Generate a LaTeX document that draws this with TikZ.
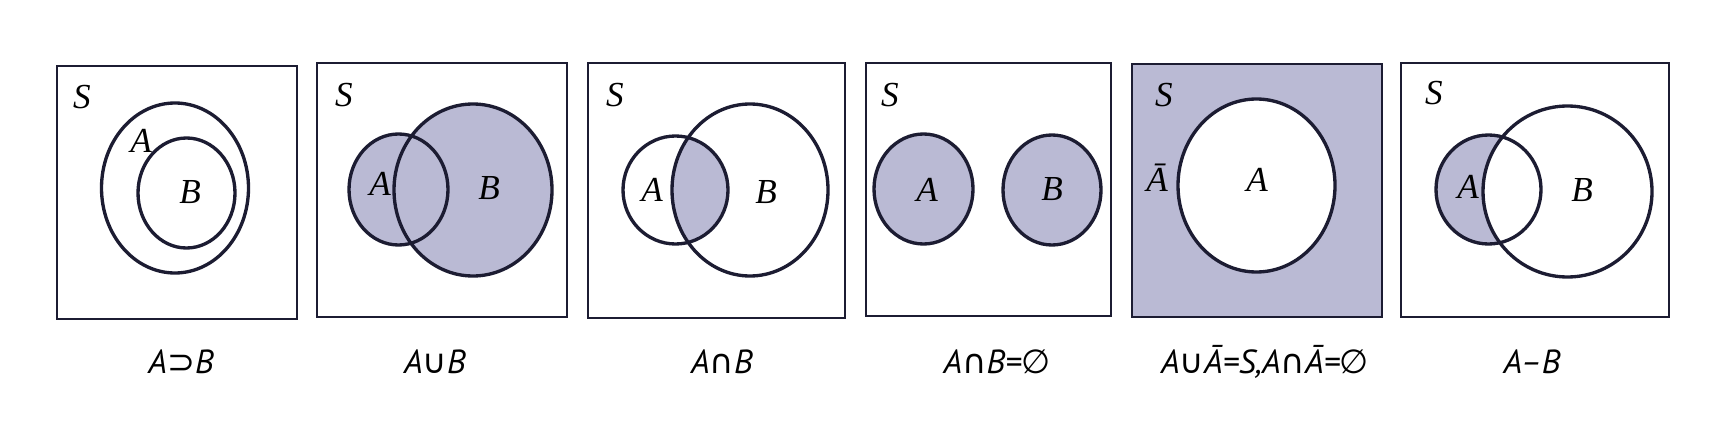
\documentclass[tikz,border=0pt]{standalone}
\usepackage{fontspec}
\setmainfont{Liberation Serif}
\newfontfamily\capfont{PT Sans}
\newfontfamily\symfont{DejaVu Sans}
\usetikzlibrary{positioning}
\definecolor{vennInk}{RGB}{28,28,50}
\definecolor{vennFill}{RGB}{186,186,212}
\newcommand\Vsup{{\symfont\upshape ⊃}}
\newcommand\Vcup{{\symfont\upshape ∪}}
\newcommand\Vcap{{\symfont\upshape ∩}}
\newcommand\Vempty{{\symfont\upshape ∅}}

\begin{document}
\begin{tikzpicture}[x=0.02cm,y=-0.02cm,
    frame/.style={draw=vennInk,line width=1.1pt},
    setline/.style={draw=vennInk,line width=1.9pt},
    setfill/.style={fill=vennFill},
    lbl/.style={font=\fontsize{20}{22}\selectfont\itshape,inner sep=0pt},
    caption/.style={font=\capfont\fontsize{19}{22}\selectfont\itshape,inner sep=0pt}]
    \fill[white] (0,0) rectangle (1710,439);
    \useasboundingbox (0,0) rectangle (1710,439);

    \draw[frame] (57,66) rectangle (297,319);
    \draw[setline] (175,188) ellipse [x radius=73.5,y radius=85];
    \draw[setline] (186.5,193) ellipse [x radius=48.5,y radius=55];
    \node[lbl](spaceOne) at (82,97) {S};
    \node[lbl](aOne) at (141,141) {A};
    \node[lbl](bOne) at (190,192) {B};
    \node[caption](capSuperset) at (181,362) {A\Vsup B};

    \draw[frame] (317,63) rectangle (567,317);
    \fill[setfill] (398.5,189.5) ellipse [x radius=49.5,y radius=55.5];
    \fill[setfill] (473,190) ellipse [x radius=79,y radius=86];
    \draw[setline] (398.5,189.5) ellipse [x radius=49.5,y radius=55.5];
    \draw[setline] (473,190) ellipse [x radius=79,y radius=86];
    \node[lbl](spaceTwo) at (344,95) {S};
    \node[lbl](aTwo) at (380,184) {A};
    \node[lbl](bTwo) at (489,188) {B};
    \node[caption](capUnion) at (435,362) {A\Vcup B};

    \draw[frame] (588,63) rectangle (845,318);
    \begin{scope}
        \clip (675.5,190) ellipse [x radius=52.5,y radius=54];
        \fill[setfill] (750,190) ellipse [x radius=78,y radius=86];
    \end{scope}
    \draw[setline] (675.5,190) ellipse [x radius=52.5,y radius=54];
    \draw[setline] (750,190) ellipse [x radius=78,y radius=86];
    \node[lbl](spaceThree) at (615,95) {S};
    \node[lbl](aThree) at (652,190) {A};
    \node[lbl](bThree) at (766,192) {B};
    \node[caption](capIntersect) at (722,362) {A\Vcap B};

    \draw[frame] (866,63) rectangle (1111,316);
    \filldraw[setline,setfill] (923.5,189) ellipse [x radius=49.5,y radius=55];
    \filldraw[setline,setfill] (1052,190) ellipse [x radius=49,y radius=55];
    \node[lbl](spaceFour) at (890,95) {S};
    \node[lbl](aFour) at (927,190) {A};
    \node[lbl](bFour) at (1052,189) {B};
    \node[caption](capDisjoint) at (997,362) {A\Vcap B=\Vempty};

    \filldraw[frame,setfill] (1132,64) rectangle (1382,317);
    \filldraw[setline,fill=white] (1256.5,185.5) ellipse [x radius=78.5,y radius=86.5];
    \node[lbl](spaceFive) at (1164,95) {S};
    \node[lbl](notAFive) at (1157,178) {\={A}};
    \node[lbl](aFive) at (1257,180) {A};
    \node[caption](capComplement) at (1265,362) {A\Vcup\={A}=S,A\Vcap\={A}=\Vempty};

    \draw[frame] (1401,63) rectangle (1669,317);
    \begin{scope}
        \clip (1488.5,189.5) ellipse [x radius=52.5,y radius=54.5];
        \fill[setfill,even odd rule] (1488.5,189.5) ellipse [x radius=52.5,y radius=54.5]
            (1567.5,191.5) ellipse [x radius=84.5,y radius=85.5];
    \end{scope}
    \draw[setline] (1488.5,189.5) ellipse [x radius=52.5,y radius=54.5];
    \draw[setline] (1567.5,191.5) ellipse [x radius=84.5,y radius=85.5];
    \node[lbl](spaceSix) at (1434,93) {S};
    \node[lbl](aSix) at (1468,187) {A};
    \node[lbl](bSix) at (1582,190) {B};
    \node[caption](capDifference) at (1532,362) {A–B};
\end{tikzpicture}
\end{document}
